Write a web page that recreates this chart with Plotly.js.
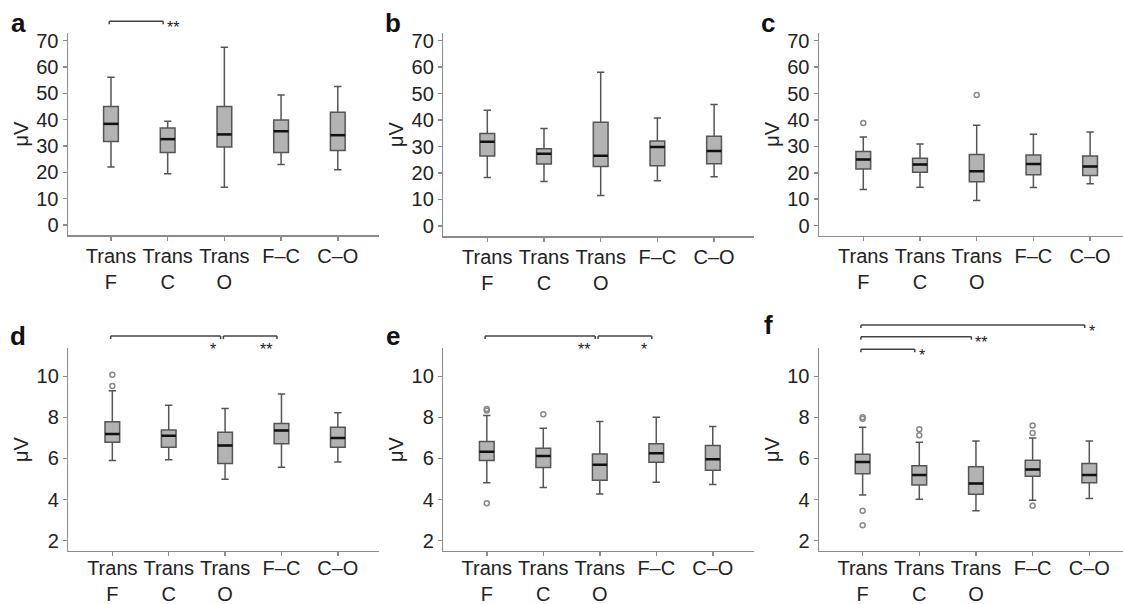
<!DOCTYPE html>
<html>
<head>
<meta charset="utf-8">
<script src="https://cdn.plot.ly/plotly-3.0.1.min.js"></script>
<style>html,body{margin:0;padding:0;background:#fff;}#chart{width:1123px;height:604px;}</style>
</head>
<body>
<div id="chart"></div>
<script>
// ---------- data ----------
const categories = ["Trans F", "Trans C", "Trans O", "F–C", "C–O"];
const tickLabels = ["Trans<br>F", "Trans<br>C", "Trans<br>O", "F–C", "C–O"];
const panelLetters = ["a", "b", "c", "d", "e", "f"];
const yTitle = "μV";

// panel a
const aLower  = [22.0, 19.5, 14.3, 23.0, 21.0];
const aQ1     = [31.7, 27.5, 29.6, 27.5, 28.3];
const aMedian = [38.4, 32.6, 34.4, 35.6, 34.1];
const aQ3     = [45.0, 36.8, 45.0, 39.9, 42.8];
const aUpper  = [56.1, 39.4, 67.5, 49.4, 52.6];
const aOutCat = [];
const aOutVal = [];
const aSigFrom = ["Trans F"];
const aSigTo   = ["Trans C"];
const aSigLabel = ["**"];

// panel b
const bLower  = [18.3, 16.8, 11.5, 17.1, 18.6];
const bQ1     = [26.4, 23.4, 22.5, 22.7, 23.5];
const bMedian = [31.8, 27.3, 26.5, 29.8, 28.3];
const bQ3     = [34.9, 29.2, 39.2, 32.1, 33.9];
const bUpper  = [43.7, 36.8, 58.1, 40.8, 45.9];
const bOutCat = [];
const bOutVal = [];
const bSigFrom = [];
const bSigTo   = [];
const bSigLabel = [];

// panel c
const cLower  = [13.7, 14.5, 9.5, 14.4, 15.9];
const cQ1     = [21.4, 20.2, 16.6, 19.3, 19.0];
const cMedian = [25.0, 23.1, 20.6, 23.3, 22.4];
const cQ3     = [28.1, 25.5, 26.9, 26.7, 26.4];
const cUpper  = [33.5, 30.9, 38.0, 34.6, 35.4];
const cOutCat = ["Trans F", "Trans O"];
const cOutVal = [38.8, 49.4];
const cSigFrom = [];
const cSigTo   = [];
const cSigLabel = [];

// panel d
const dLower  = [5.90, 5.94, 4.99, 5.57, 5.83];
const dQ1     = [6.79, 6.55, 5.75, 6.71, 6.55];
const dMedian = [7.19, 7.10, 6.63, 7.36, 7.00];
const dQ3     = [7.78, 7.39, 7.28, 7.70, 7.52];
const dUpper  = [9.29, 8.59, 8.43, 9.13, 8.22];
const dOutCat = ["Trans F", "Trans F"];
const dOutVal = [10.07, 9.53];
const dSigFrom = ["Trans F", "Trans O"];
const dSigTo   = ["Trans O", "F–C"];
const dSigLabel = ["*", "**"];

// panel e
const eLower  = [4.82, 4.58, 4.27, 4.84, 4.73];
const eQ1     = [5.90, 5.56, 4.94, 5.81, 5.43];
const eMedian = [6.32, 6.12, 5.69, 6.25, 5.96];
const eQ3     = [6.82, 6.50, 6.22, 6.71, 6.63];
const eUpper  = [8.09, 7.47, 7.80, 8.01, 7.55];
const eOutCat = ["Trans F", "Trans F", "Trans F", "Trans C"];
const eOutVal = [8.40, 8.33, 3.82, 8.15];
const eSigFrom = ["Trans F", "Trans O"];
const eSigTo   = ["Trans O", "F–C"];
const eSigLabel = ["**", "*"];

// panel f
const fLower  = [4.22, 4.01, 3.46, 3.96, 4.05];
const fQ1     = [5.26, 4.71, 4.26, 5.13, 4.82];
const fMedian = [5.83, 5.20, 4.78, 5.46, 5.20];
const fQ3     = [6.20, 5.65, 5.60, 5.91, 5.75];
const fUpper  = [7.52, 6.79, 6.85, 7.00, 6.85];
const fOutCat = ["Trans F", "Trans F", "Trans F", "Trans F", "Trans C", "Trans C", "F–C", "F–C", "F–C"];
const fOutVal = [8.01, 7.93, 3.46, 2.75, 7.42, 7.13, 7.60, 7.24, 3.70];
const fSigFrom = ["Trans F", "Trans F", "Trans F"];
const fSigTo   = ["C–O", "Trans O", "Trans C"];
const fSigLabel = ["*", "**", "*"];

const topTicks = [0, 10, 20, 30, 40, 50, 60, 70];
const bottomTicks = [2, 4, 6, 8, 10];

// ---------- layout / style (pixels converted to paper) ----------
const W = 1123, H = 604;
const px = v => v / W;
const py = v => (H - v) / H;

const panels = [
  {L:aLower,Q1:aQ1,M:aMedian,Q3:aQ3,U:aUpper,oc:aOutCat,ov:aOutVal,sf:aSigFrom,st:aSigTo,sl:aSigLabel,
   xd:[68,379], yd:[33,235], xr:[-0.758,4.727], yr:[-3.8,72.9], ticks:topTicks, lx:18, ly:23,
   sigY:[21.3], sigMode:"right", so:-2},
  {L:bLower,Q1:bQ1,M:bMedian,Q3:bQ3,U:bUpper,oc:bOutCat,ov:bOutVal,sf:bSigFrom,st:bSigTo,sl:bSigLabel,
   xd:[443.3,754], yd:[33,236], xr:[-0.776,4.704], yr:[-3.8,72.9], ticks:topTicks, lx:393, ly:23,
   sigY:[], sigMode:"right", so:-2},
  {L:cLower,Q1:cQ1,M:cMedian,Q3:cQ3,U:cUpper,oc:cOutCat,ov:cOutVal,sf:cSigFrom,st:cSigTo,sl:cSigLabel,
   xd:[819,1123], yd:[33,235.7], xr:[-0.781,4.58], yr:[-3.8,72.9], ticks:topTicks, lx:768, ly:23,
   sigY:[], sigMode:"right", so:-2},
  {L:dLower,Q1:dQ1,M:dMedian,Q3:dQ3,U:dUpper,oc:dOutCat,ov:dOutVal,sf:dSigFrom,st:dSigTo,sl:dSigLabel,
   xd:[68.3,379], yd:[348.3,550.7], xr:[-0.781,4.73], yr:[1.51,11.36], ticks:bottomTicks, lx:18, ly:336,
   sigY:[336,336], sigMode:"below", so:-5},
  {L:eLower,Q1:eQ1,M:eMedian,Q3:eQ3,U:eUpper,oc:eOutCat,ov:eOutVal,sf:eSigFrom,st:eSigTo,sl:eSigLabel,
   xd:[443.3,754], yd:[348.3,550.7], xr:[-0.77,4.73], yr:[1.51,11.36], ticks:bottomTicks, lx:393, ly:336,
   sigY:[336,336], sigMode:"below", so:-5},
  {L:fLower,Q1:fQ1,M:fMedian,Q3:fQ3,U:fUpper,oc:fOutCat,ov:fOutVal,sf:fSigFrom,st:fSigTo,sl:fSigLabel,
   xd:[819,1123], yd:[348.3,550.7], xr:[-0.77,4.595], yr:[1.51,11.36], ticks:bottomTicks, lx:768, ly:325,
   sigY:[325,336.7,349.3], sigMode:"right", so:-5}
];

const FONT = "Liberation Sans, Arial, Helvetica, sans-serif";
const AXIS_GREY = "#8c8c8c";
const TEXT = "#222222";
const BOX_W = 0.26;

const idx = c => categories.indexOf(c);
const catIdx = categories.map((c, i) => i);

const traces = [];
const layout = {
  width: W, height: H,
  margin: {l:0, r:0, t:0, b:0},
  paper_bgcolor: "#ffffff", plot_bgcolor: "#ffffff",
  showlegend: false,
  font: {family: FONT, color: TEXT},
  shapes: [], annotations: []
};

panels.forEach((p, k) => {
  const n = k + 1;
  const xa = "x" + (n === 1 ? "" : n), ya = "y" + (n === 1 ? "" : n);
  const xKey = "xaxis" + (n === 1 ? "" : n), yKey = "yaxis" + (n === 1 ? "" : n);

  layout[xKey] = {
    domain: [px(p.xd[0]), px(p.xd[1])], range: p.xr, anchor: ya,
    tickmode: "array", tickvals: catIdx, ticktext: tickLabels,
    showline: true, linecolor: AXIS_GREY, linewidth: 1.5,
    ticks: "outside", ticklen: 4, tickwidth: 1.5, tickcolor: AXIS_GREY,
    ticklabelstandoff: p.so,
    tickfont: {size: 20, color: TEXT, family: FONT},
    showgrid: false, zeroline: false, fixedrange: true
  };
  layout[yKey] = {
    domain: [py(p.yd[1]), py(p.yd[0])], range: p.yr, anchor: xa,
    tickmode: "array", tickvals: p.ticks,
    showline: true, linecolor: AXIS_GREY, linewidth: 1.5,
    ticks: "outside", ticklen: 4, tickwidth: 1.5, tickcolor: AXIS_GREY,
    tickfont: {size: 20, color: TEXT, family: FONT},
    title: {text: yTitle, font: {size: 20, color: TEXT, family: FONT}, standoff: 2},
    showgrid: false, zeroline: false, fixedrange: true
  };

  traces.push({
    type: "box", x: catIdx, q1: p.Q1, median: p.M, q3: p.Q3,
    lowerfence: p.L, upperfence: p.U,
    width: BOX_W, whiskerwidth: 0.5, boxpoints: false,
    fillcolor: "#b3b3b3", line: {color: "#555555", width: 1.5},
    xaxis: xa, yaxis: ya, hoverinfo: "skip"
  });

  // median bars drawn darker on top
  const mx = [], my = [];
  p.M.forEach((m, i) => { mx.push(i - BOX_W / 2, i + BOX_W / 2, null); my.push(m, m, null); });
  traces.push({type: "scatter", mode: "lines", x: mx, y: my,
    line: {color: "#111111", width: 2.5}, xaxis: xa, yaxis: ya, hoverinfo: "skip"});

  if (p.ov.length) {
    traces.push({type: "scatter", mode: "markers", x: p.oc.map(idx), y: p.ov,
      marker: {symbol: "circle-open", size: 5, color: "#8a8a8a", line: {width: 1.5, color: "#8a8a8a"}},
      xaxis: xa, yaxis: ya, hoverinfo: "skip"});
  }

  // panel letter
  layout.annotations.push({xref: "paper", yref: "paper", x: px(p.lx), y: py(p.ly),
    text: "<b>" + panelLetters[k] + "</b>", showarrow: false, xanchor: "center", yanchor: "middle",
    font: {size: 26, color: "#111", family: FONT}});

  // significance brackets
  p.sf.forEach((from, j) => {
    const x0 = idx(from) - 0.03, x1 = idx(p.st[j]) - 0.08;
    const yy = py(p.sigY[j]), yd = py(p.sigY[j] + 3);
    const ln = {color: "#444444", width: 1.5};
    layout.shapes.push({type: "line", xref: xa, yref: "paper", x0: x0, x1: x1, y0: yy, y1: yy, line: ln});
    layout.shapes.push({type: "line", xref: xa, yref: "paper", x0: x0, x1: x0, y0: yy, y1: yd, line: ln});
    layout.shapes.push({type: "line", xref: xa, yref: "paper", x0: x1, x1: x1, y0: yy, y1: yd, line: ln});
    if (p.sigMode === "right") {
      layout.annotations.push({xref: xa, yref: "paper", x: x1, y: py(p.sigY[j] + 6),
        text: p.sl[j], showarrow: false, xanchor: "left", yanchor: "middle", xshift: 2,
        font: {size: 16, color: "#222", family: FONT}});
    } else {
      layout.annotations.push({xref: xa, yref: "paper", x: x1, y: py(p.sigY[j] + 13),
        text: p.sl[j], showarrow: false, xanchor: "right", yanchor: "middle", xshift: -3,
        font: {size: 16, color: "#222", family: FONT}});
    }
  });
});

Plotly.newPlot("chart", traces, layout, {displayModeBar: false, staticPlot: true});
</script>
</body>
</html>
